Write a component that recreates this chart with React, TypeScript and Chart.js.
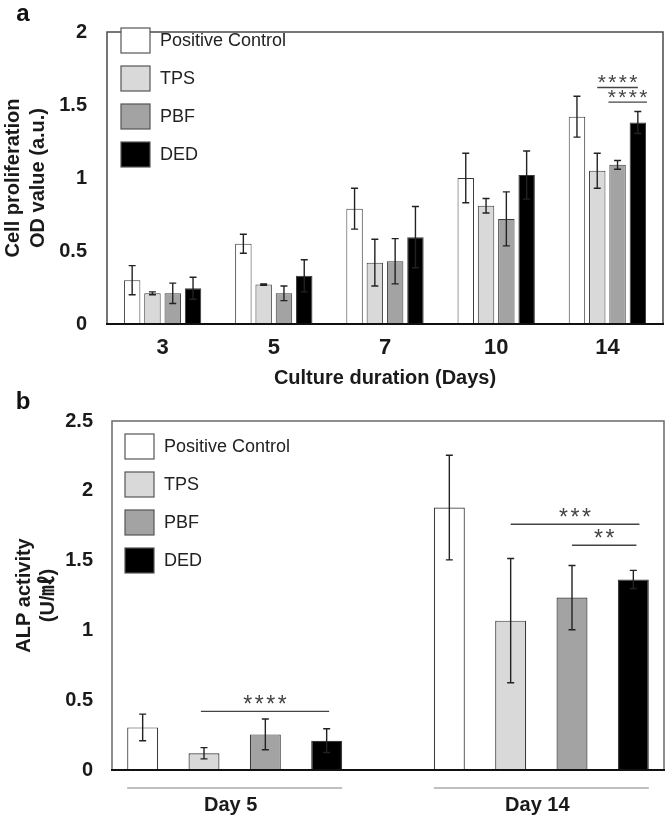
import React, { useEffect, useRef } from 'react';
import { Chart, registerables } from 'chart.js';

Chart.register(...registerables);

const FONT = "'Liberation Sans', Arial, Helvetica, sans-serif";
const FONT_CJK = "'Liberation Sans', Arial, 'Noto Sans CJK KR', sans-serif";

// ---- shared series ----
const seriesNames = ['Positive Control', 'TPS', 'PBF', 'DED'];
const seriesColors = ['#ffffff', '#d9d9d9', '#a3a3a3', '#000000'];

// ---- panel a: cell proliferation ----
const daysA = ['3', '5', '7', '10', '14'];
const pcA = [0.30, 0.55, 0.79, 1.00, 1.42];
const tpsA = [0.21, 0.27, 0.42, 0.81, 1.05];
const pbfA = [0.21, 0.21, 0.43, 0.72, 1.09];
const dedA = [0.245, 0.33, 0.595, 1.02, 1.38];
const pcErrA = [0.10, 0.065, 0.14, 0.17, 0.14];
const tpsErrA = [0.01, 0.005, 0.16, 0.05, 0.12];
const pbfErrA = [0.07, 0.05, 0.155, 0.185, 0.03];
const dedErrA = [0.075, 0.11, 0.21, 0.165, 0.075];
const yTicksA = { min: 0, max: 2, step: 0.5 };
const sigA = [
  { g: 4, from: 1, to: 3, y: 1.62, text: '****' },
  { g: 4, from: 1.55, to: 3.45, y: 1.52, text: '****' },
];

// ---- panel b: ALP activity ----
const daysB = ['Day 5', 'Day 14'];
const pcB = [0.305, 1.88];
const tpsB = [0.12, 1.07];
const pbfB = [0.255, 1.235];
const dedB = [0.21, 1.365];
const pcErrB = [0.095, 0.375];
const tpsErrB = [0.04, 0.445];
const pbfErrB = [0.11, 0.23];
const dedErrB = [0.085, 0.065];
const yTicksB = { min: 0, max: 2.5, step: 0.5 };
const sigB = [
  { g: 0, from: 0.95, to: 3.04, y: 0.42, text: '****' },
  { g: 1, from: 1, to: 3.1, y: 1.76, text: '***' },
  { g: 1, from: 2, to: 3.05, y: 1.61, text: '**' },
];

const valsA = [pcA, tpsA, pbfA, dedA];
const errsA = [pcErrA, tpsErrA, pbfErrA, dedErrA];
const valsB = [pcB, tpsB, pbfB, dedB];
const errsB = [pcErrB, tpsErrB, pbfErrB, dedErrB];

// panel b uses slots: 4 bars, one empty slot, 4 bars
const SLOTS_PER_GROUP = 5;
const slotCountB = daysB.length * SLOTS_PER_GROUP - 1;

type Sig = { g: number; from: number; to: number; y: number; text: string };

interface DecorCfg {
  id: string;
  panel: string;
  panelPos: [number, number];
  legendX: number;
  legendY: number;
  legendGap: number;
  vals: number[][];
  errs: number[][];
  nGroups: number;
  slot: (g: number, s: number) => number;
  sigs: Sig[];
  capHalf: number;
  starGap: number;
  starSize: number;
  starLift: number;
  groupLabels?: string[];
  groupLineY?: number;
  groupLabelY?: number;
  frameColor: string;
}

function makeDecor(cfg: DecorCfg) {
  const barX = (chart: any, g: number, s: number) =>
    chart.getDatasetMeta(s).data[cfg.slot(g, s)].x;
  const fracX = (chart: any, g: number, f: number) => {
    const s0 = Math.max(0, Math.min(Math.floor(f), seriesNames.length - 2));
    const x0 = barX(chart, g, s0);
    const x1 = barX(chart, g, s0 + 1);
    return x0 + (f - s0) * (x1 - x0);
  };
  return {
    id: cfg.id,
    afterDatasetsDraw(chart: any) {
      const ctx = chart.ctx;
      const ys = chart.scales.y;
      const area = chart.chartArea;
      ctx.save();
      // error bars
      ctx.strokeStyle = '#222';
      ctx.lineWidth = 1.4;
      for (let s = 0; s < seriesNames.length; s++) {
        for (let g = 0; g < cfg.nGroups; g++) {
          const v = cfg.vals[s][g];
          const e = cfg.errs[s][g];
          const x = barX(chart, g, s);
          const yt = ys.getPixelForValue(v + e);
          const yb = ys.getPixelForValue(Math.max(0, v - e));
          ctx.beginPath();
          ctx.moveTo(x, yt);
          ctx.lineTo(x, yb);
          ctx.moveTo(x - cfg.capHalf, yt);
          ctx.lineTo(x + cfg.capHalf, yt);
          ctx.moveTo(x - cfg.capHalf, yb);
          ctx.lineTo(x + cfg.capHalf, yb);
          ctx.stroke();
        }
      }
      // frame
      ctx.strokeStyle = cfg.frameColor;
      ctx.lineWidth = 1.5;
      ctx.beginPath();
      ctx.moveTo(area.left, area.bottom);
      ctx.lineTo(area.left, area.top);
      ctx.lineTo(area.right, area.top);
      ctx.lineTo(area.right, area.bottom);
      ctx.stroke();
      ctx.strokeStyle = '#111';
      ctx.lineWidth = 1.8;
      ctx.beginPath();
      ctx.moveTo(area.left - 1, area.bottom);
      ctx.lineTo(area.right + 1, area.bottom);
      ctx.stroke();

      // significance
      for (const sg of cfg.sigs) {
        const x0 = fracX(chart, sg.g, sg.from);
        const x1 = fracX(chart, sg.g, sg.to);
        const y = ys.getPixelForValue(sg.y);
        ctx.strokeStyle = '#444';
        ctx.lineWidth = 1.4;
        ctx.beginPath();
        ctx.moveTo(x0, y);
        ctx.lineTo(x1, y);
        ctx.stroke();
        ctx.fillStyle = '#444';
        ctx.font = `${cfg.starSize}px ${FONT}`;
        ctx.textAlign = 'center';
        ctx.textBaseline = 'alphabetic';
        const n = sg.text.length;
        const cx = (x0 + x1) / 2;
        const base = y - cfg.starLift + 0.57 * cfg.starSize;
        for (let k = 0; k < n; k++) {
          const sx = cx + (k - (n - 1) / 2) * cfg.starGap;
          ctx.fillText(sg.text[k], sx, base);
        }
      }

      // legend
      ctx.font = `18px ${FONT}`;
      ctx.textAlign = 'left';
      ctx.textBaseline = 'middle';
      for (let s = 0; s < seriesNames.length; s++) {
        const by = cfg.legendY + s * cfg.legendGap;
        ctx.fillStyle = seriesColors[s];
        ctx.fillRect(cfg.legendX, by, 29, 25);
        ctx.strokeStyle = '#555';
        ctx.lineWidth = 1.2;
        ctx.strokeRect(cfg.legendX, by, 29, 25);
        ctx.fillStyle = '#222';
        ctx.fillText(seriesNames[s], cfg.legendX + 39, by + 13);
      }

      // group labels under axis (panel b)
      if (cfg.groupLabels) {
        for (let g = 0; g < cfg.groupLabels.length; g++) {
          const e0 = chart.getDatasetMeta(0).data[cfg.slot(g, 0)];
          const e3 = chart.getDatasetMeta(3).data[cfg.slot(g, 3)];
          const l = e0.x - e0.width / 2;
          const r = e3.x + e3.width / 2;
          ctx.strokeStyle = '#aaa';
          ctx.lineWidth = 1.5;
          ctx.beginPath();
          ctx.moveTo(l, cfg.groupLineY!);
          ctx.lineTo(r, cfg.groupLineY!);
          ctx.stroke();
          ctx.fillStyle = '#1a1a1a';
          ctx.font = `bold 20px ${FONT}`;
          ctx.textAlign = 'center';
          ctx.textBaseline = 'middle';
          ctx.fillText(cfg.groupLabels[g], (l + r) / 2 - 4, cfg.groupLabelY!);
        }
      }

      // panel letter
      ctx.fillStyle = '#111';
      ctx.font = `bold 24px ${FONT}`;
      ctx.textAlign = 'center';
      ctx.textBaseline = 'middle';
      ctx.fillText(cfg.panel, cfg.panelPos[0], cfg.panelPos[1]);
      ctx.restore();
    },
  };
}

const tickFont = (size: number) => ({ family: FONT, size, weight: 'bold' as const });
const plainTick = (v: any) => String(Number(v));

export default function App() {
  const refA = useRef<HTMLCanvasElement>(null);
  const refB = useRef<HTMLCanvasElement>(null);

  useEffect(() => {
    const chartA = new Chart(refA.current!, {
      type: 'bar',
      data: {
        labels: daysA,
        datasets: seriesNames.map((name, s) => ({
          label: name,
          data: valsA[s],
          backgroundColor: seriesColors[s],
          borderColor: '#3a3a3a',
          borderWidth: 1,
          categoryPercentage: 0.73,
          barPercentage: 0.81,
        })),
      },
      options: {
        responsive: false,
        animation: false,
        devicePixelRatio: 1,
        layout: { padding: { left: 0, right: 5, top: 14, bottom: 0 } },
        plugins: { legend: { display: false }, tooltip: { enabled: false } },
        scales: {
          x: {
            grid: { display: false, drawTicks: false },
            border: { display: false },
            ticks: { font: tickFont(22), color: '#1a1a1a', padding: 11 },
            title: {
              display: true,
              text: 'Culture duration (Days)',
              color: '#1a1a1a',
              font: { family: FONT, size: 20, weight: 'bold', lineHeight: 1.2 },
              padding: { top: 0, bottom: 0 },
            },
            afterFit: (s: any) => { s.height = 66; },
          },
          y: {
            min: yTicksA.min,
            max: yTicksA.max,
            grid: { display: false, drawTicks: false },
            border: { display: false },
            ticks: { stepSize: yTicksA.step, font: tickFont(20), color: '#1a1a1a', padding: 20, callback: plainTick },
            title: {
              display: true,
              text: ['Cell proliferation', 'OD value (a.u.)'],
              color: '#1a1a1a',
              font: { family: FONT, size: 20, weight: 'bold', lineHeight: 1.25 },
              padding: { top: 0.5, bottom: 0 },
            },
            afterFit: (s: any) => { s.width = 107; },
          },
        },
      } as any,
      plugins: [
        makeDecor({
          id: 'decorA',
          panel: 'a',
          panelPos: [23, 14],
          legendX: 121,
          legendY: 28,
          legendGap: 38,
          vals: valsA,
          errs: errsA,
          nGroups: daysA.length,
          slot: (g) => g,
          sigs: sigA,
          capHalf: 3.5,
          starGap: 10.5,
          starSize: 21,
          starLift: 10,
          frameColor: '#4a4a4a',
        }),
      ],
    });

    const slotLabels = Array.from({ length: slotCountB }, (_, i) =>
      i % SLOTS_PER_GROUP === 0 ? daysB[Math.floor(i / SLOTS_PER_GROUP)] : ''
    );
    const chartB = new Chart(refB.current!, {
      type: 'bar',
      data: {
        labels: slotLabels,
        datasets: seriesNames.map((name, s) => {
          const d: (number | null)[] = new Array(slotCountB).fill(null);
          daysB.forEach((_, g) => { d[g * SLOTS_PER_GROUP + s] = valsB[s][g]; });
          return {
            label: name,
            data: d,
            backgroundColor: seriesColors[s],
            borderColor: '#3a3a3a',
            borderWidth: 1.2,
            grouped: false,
            categoryPercentage: 1,
            barPercentage: 0.505,
          };
        }),
      },
      options: {
        responsive: false,
        animation: false,
        devicePixelRatio: 1,
        layout: { padding: { left: 0, right: 4, top: 30, bottom: 0 } },
        plugins: { legend: { display: false }, tooltip: { enabled: false } },
        scales: {
          x: {
            grid: { display: false, drawTicks: false },
            border: { display: false },
            ticks: { display: false },
            afterFit: (s: any) => { s.height = 49; },
          },
          y: {
            min: yTicksB.min,
            max: yTicksB.max,
            grid: { display: false, drawTicks: false },
            border: { display: false },
            ticks: { stepSize: yTicksB.step, font: tickFont(20), color: '#1a1a1a', padding: 19, callback: plainTick },
            title: {
              display: true,
              text: ['ALP activity', '(U/㎖)'],
              color: '#1a1a1a',
              font: { family: FONT_CJK, size: 20, weight: 'bold', lineHeight: 1.22 },
              padding: { top: 12, bottom: 0 },
            },
            afterFit: (s: any) => { s.width = 112; },
          },
        },
      } as any,
      plugins: [
        makeDecor({
          id: 'decorB',
          panel: 'b',
          panelPos: [23, 12],
          legendX: 125,
          legendY: 44,
          legendGap: 38,
          vals: valsB,
          errs: errsB,
          nGroups: daysB.length,
          slot: (g, s) => g * SLOTS_PER_GROUP + s,
          sigs: sigB,
          capHalf: 3.5,
          starGap: 11.5,
          starSize: 23,
          starLift: 12,
          groupLabels: daysB,
          groupLineY: 398,
          groupLabelY: 415,
          frameColor: '#6a6a6a',
        }),
      ],
    });

    return () => {
      chartA.destroy();
      chartB.destroy();
    };
  }, []);

  return (
    <div style={{ position: 'absolute', left: 0, top: 0, width: 668, height: 819, background: '#fff' }}>
      <canvas ref={refA} width={668} height={390} style={{ position: 'absolute', left: 0, top: 0, display: 'block' }} />
      <canvas ref={refB} width={668} height={429} style={{ position: 'absolute', left: 0, top: 390, display: 'block' }} />
    </div>
  );
}
